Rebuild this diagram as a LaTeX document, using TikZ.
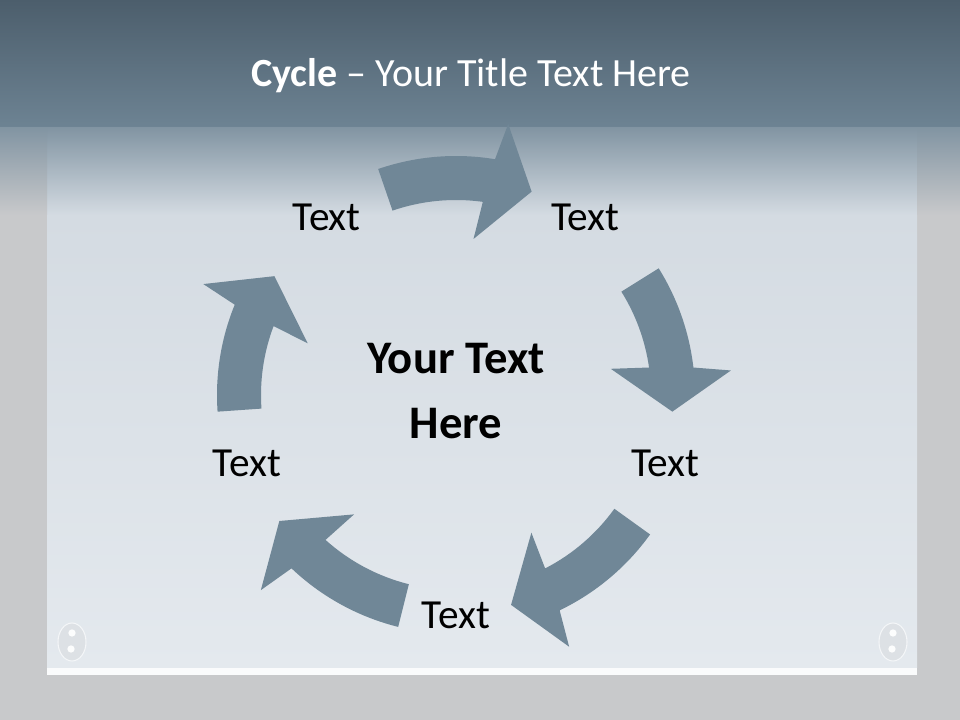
\documentclass[tikz,border=0pt]{standalone}
\usepackage{fontspec}
\setmainfont{Carlito}
\usepackage{xcolor}
\usepackage{tikz}
\definecolor{headtop}{HTML}{4C5E6C}
\definecolor{headbot}{HTML}{6D8393}
\definecolor{fadetop}{HTML}{8194A2}
\definecolor{platetop}{HTML}{D4DBE2}
\definecolor{platebot}{HTML}{E4E9EE}
\definecolor{sidegray}{HTML}{C8C9CB}
\definecolor{arrowslate}{HTML}{708797}
\tikzset{
  cycle arrow/.style={fill=arrowslate},
  step label/.style={font=\fontsize{31}{36}\selectfont,text=black,
    anchor=base,yshift=-10.1pt,inner sep=0pt},
  hub label/.style={font=\fontsize{35}{48.75}\selectfont\bfseries,
    align=center,inner sep=0pt},
  screw/.style={fill=platebot!75!sidegray,draw=white!60!platebot,line width=0.8pt},
  screw dot/.style={circle,fill=white!90!platebot,inner sep=0pt,minimum size=5.5pt}
}

\begin{document}
\begin{tikzpicture}[x=0.75pt,y=0.75pt]
  \useasboundingbox (0,0) rectangle (960,720);
  % backdrop
  \fill[sidegray] (0,0) rectangle (960,720);
  \shade[top color=platetop,bottom color=platebot] (47,52) rectangle (917,505);
  \fill[white!80!platebot] (47,45) rectangle (917,52);
  \shade[top color=fadetop,bottom color=platetop] (47,505) rectangle (917,593);
  \shade[top color=fadetop,bottom color=sidegray] (0,505) rectangle (47,593);
  \shade[top color=fadetop,bottom color=sidegray] (917,505) rectangle (960,593);
  \shade[top color=headtop,bottom color=headbot] (0,593) rectangle (960,720);
  \foreach \sx in {72,893} {
    \fill[screw] (\sx,78) ellipse[x radius=14,y radius=19];
    \node[screw dot] at (\sx,87) {};
    \node[screw dot] at (\sx-1,71) {};
  }
  \node[text=white,font=\fontsize{30}{36}\selectfont,anchor=base] (title)
    at (471,633) {\textbf{Cycle} \textendash{} Your Title Text Here};
  \begin{scope}[shift={(456,325)}]
    \coordinate (c) at (0,0);
    \foreach \tail/\tip in {109/69.6,32/-4.4,-35.7/-75.3,256/215.5,184/146.8}
      \fill[cycle arrow] (\tail:239)
        arc[start angle=\tail,end angle=\tip+11,radius=239]
        -- ({\tip+9.5}:276) -- (\tip:217) -- ({\tip+14}:157)
        -- ({\tip+12.5}:195)
        arc[start angle=\tip+12.5,end angle=\tail,radius=195] -- cycle;
    \foreach \ang [count=\i] in {126,54,-18,-90,198}
      \node[step label] (t\i) at (\ang:220) {Text};
    \node[hub label] (hub) at (0,4) {Your Text\\Here};
  \end{scope}
\end{tikzpicture}
\end{document}
